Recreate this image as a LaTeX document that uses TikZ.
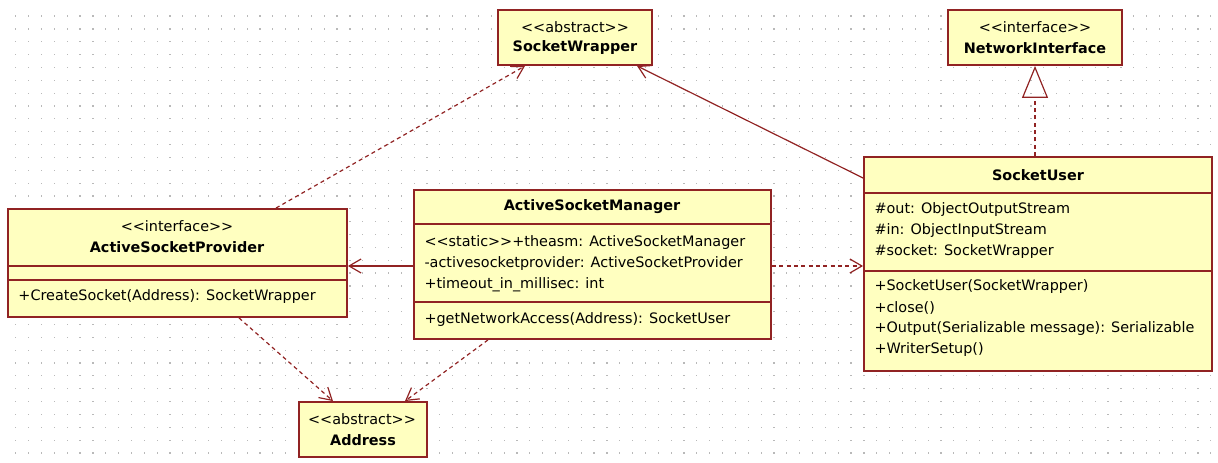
\documentclass[tikz,border=0pt]{standalone}
\usepackage{fontspec}
\setmainfont{DejaVu Sans}
\usetikzlibrary{arrows.meta,fit}

\definecolor{umlred}{RGB}{145,35,35}
\definecolor{umlfill}{RGB}{255,255,192}
\definecolor{griddot}{RGB}{185,185,185}

\tikzset{every picture/.style={line width=0.75pt},
  classbox/.style={draw=umlred, fill=umlfill, line width=1.4pt, inner sep=0pt},
  sepline/.style={draw=umlred, line width=1.2pt},
  txt/.style={inner sep=0.75pt, font=\fontsize{10.8}{13}\selectfont},
  ttl/.style={inner sep=0.75pt, font=\fontsize{10.8}{13}\selectfont\bfseries},
  assoc/.style={draw=umlred, line width=0.9pt, -{Straight Barb[length=9pt,width=10.5pt]}},
  depend/.style={draw=umlred, line width=0.9pt, dash pattern=on 3pt off 2.5pt, -{Straight Barb[length=9pt,width=10.5pt]}},
  realize/.style={draw=umlred, line width=0.9pt, dash pattern=on 3pt off 2.5pt, -{Triangle[open,length=24pt,width=19.5pt]}}
}

\begin{document}
\begin{tikzpicture}[x=0.75pt,y=0.75pt,yscale=-1,xscale=1]
\useasboundingbox (0,0) rectangle (1218,463);

%Grid of dots
\foreach \i in {0,...,93}
  \foreach \j in {0,...,34}
    \fill[griddot] (15.2+\i*12.85,15.5+\j*12.85) rectangle ++(1.2,1.2);

%Shape: Class SocketWrapper
\node[classbox, fit={(498,10) (652,65)}] (sw) {};
% Text Node
\draw (575,27) node [txt] (swStereo) {<{}<abstract>{}>};
% Text Node
\draw (575,48) node [ttl] (swName) {SocketWrapper};

%Shape: Class NetworkInterface
\node[classbox, fit={(948,10) (1122,65)}] (ni) {};
% Text Node
\draw (1035,27) node [txt] (niStereo) {<{}<interface>{}>};
% Text Node
\draw (1035,48) node [ttl] (niName) {NetworkInterface};

%Shape: Class ActiveSocketProvider
\node[classbox, fit={(8,209) (347,317)}] (asp) {};
\draw[sepline] (8,266) -- (347,266);
\draw[sepline] (8,280) -- (347,280);
% Text Node
\draw (177,226) node [txt] (aspStereo) {<{}<interface>{}>};
% Text Node
\draw (177,247) node [ttl] (aspName) {ActiveSocketProvider};
% Text Node
\draw (17,297) node [txt, anchor=west] (aspOp) {+CreateSocket(Address): SocketWrapper};

%Shape: Class ActiveSocketManager
\node[classbox, fit={(414,190) (771,339)}] (asm) {};
\draw[sepline] (414,224) -- (771,224);
\draw[sepline] (414,302) -- (771,302);
% Text Node
\draw (592,207) node [ttl] (asmName) {ActiveSocketManager};
% Text Node
\draw (423,243) node [txt, anchor=west] (asmAttrA) {<{}<static>{}>+theasm: ActiveSocketManager};
% Text Node
\draw (423,264) node [txt, anchor=west] (asmAttrB) {-activesocketprovider: ActiveSocketProvider};
% Text Node
\draw (423,285) node [txt, anchor=west] (asmAttrC) {+timeout\_in\_millisec: int};
% Text Node
\draw (423,320) node [txt, anchor=west] (asmOp) {+getNetworkAccess(Address): SocketUser};

%Shape: Class SocketUser
\node[classbox, fit={(864,157) (1212,371)}] (su) {};
\draw[sepline] (864,193) -- (1212,193);
\draw[sepline] (864,271) -- (1212,271);
% Text Node
\draw (1038,175) node [ttl] (suName) {SocketUser};
% Text Node
\draw (873,210) node [txt, anchor=west] (suAttrA) {\#out: ObjectOutputStream};
% Text Node
\draw (873,231) node [txt, anchor=west] (suAttrB) {\#in: ObjectInputStream};
% Text Node
\draw (873,252) node [txt, anchor=west] (suAttrC) {\#socket: SocketWrapper};
% Text Node
\draw (873,287) node [txt, anchor=west] (suOpA) {+SocketUser(SocketWrapper)};
% Text Node
\draw (873,308) node [txt, anchor=west] (suOpB) {+close()};
% Text Node
\draw (873,329) node [txt, anchor=west] (suOpC) {+Output(Serializable message): Serializable};
% Text Node
\draw (873,350) node [txt, anchor=west] (suOpD) {+WriterSetup()};

%Shape: Class Address
\node[classbox, fit={(299,402) (427,457)}] (addr) {};
% Text Node
\draw (362,419) node [txt] (addrStereo) {<{}<abstract>{}>};
% Text Node
\draw (363,440) node [ttl] (addrName) {Address};

%Straight Lines
\draw[realize] (ni.south |- su.north) -- (ni.south);
\draw[assoc] (su.west |- 0,178) -- (sw.south -| 637,0);
\draw[depend] (asp.north -| 276,0) -- (sw.south -| 525,0);
\draw[assoc] (asm.west |- 0,266) -- (asp.east |- 0,266);
\draw[depend] (asm.east |- 0,266) -- (su.west |- 0,266);
\draw[depend] (asp.south -| 239,0) -- (addr.north -| 333,0);
\draw[depend] (asm.south -| 488,0) -- (addr.north -| 405,0);
\end{tikzpicture}
\end{document}
